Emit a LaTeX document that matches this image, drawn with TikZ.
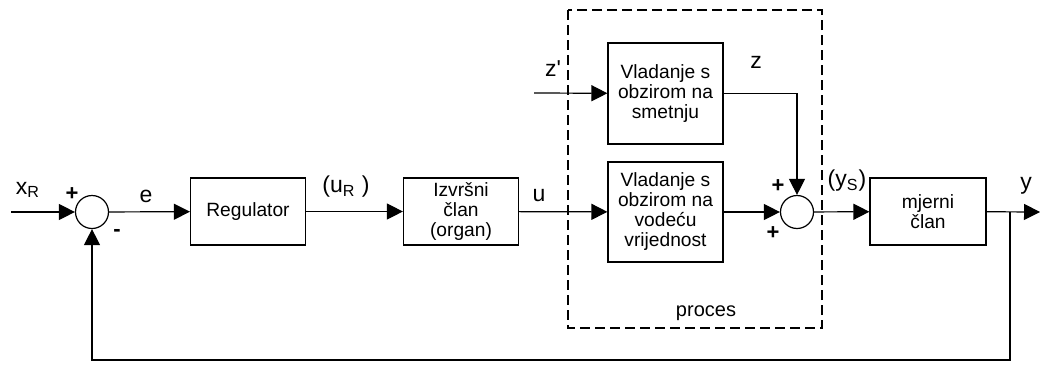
\documentclass[tikz,border=0pt]{standalone}
\usepackage{fontspec}
\setmainfont{Liberation Sans}
\usetikzlibrary{arrows.meta}

\begin{document}
\begin{tikzpicture} [x=0.5pt, y=-0.5pt, line width=0.6pt,
every node/.style = {font=\fontsize{9.6}{10}\selectfont, align=center},
blok/.style = {draw, rectangle, inner sep=0pt, minimum width=57.5pt},
zbroj/.style = {draw, circle, minimum size=16.5pt, inner sep=0pt},
oznaka/.style = {inner sep=0pt, font=\fontsize{11.5}{12}\selectfont},
predznak/.style = {inner sep=0pt, font=\fontsize{11}{12}\selectfont\bfseries},
procesokvir/.style = {line width=1.1pt, dash pattern=on 5pt off 2.5pt},
>={Triangle[length=8pt,width=8pt]}]
\useasboundingbox (0,0) rectangle (1042,364);
% blokovi
\node (s1) [zbroj] at (92,212) {};
\node (reg) [blok, minimum height=33.5pt] at (248,211.5) {Regulator};
\node (izv) [blok, minimum height=33.5pt] at (461,211.5) {Izvršni\\član\\(organ)};
\node (smet) [blok, minimum height=50.5pt] at (665.5,93.5) {Vladanje s\\obzirom na\\smetnju};
\node (vod) [blok, minimum height=50pt] at (665.5,212) {Vladanje s\\obzirom na\\vodeću\\vrijednost};
\node (s2) [zbroj] at (797,212) {};
\node (mjer) [blok, minimum width=58pt, minimum height=33.5pt] at (928,211.5) {mjerni\\član};
\coordinate (in) at (11,212);
\coordinate (zin) at (534,93);
\coordinate (br) at (1010,212);
\coordinate (out) at (1040,212);
\coordinate (fb) at (92,360);
% proces
\draw [procesokvir] (568,10) rectangle (822,328);
\node (proc) [oznaka, font=\fontsize{10}{10}\selectfont] at (706,313) {proces};
% veze
\draw [->] (in) -- (s1);
\draw [->] (s1) -- (reg);
\draw [->] (reg) -- (izv);
\draw [->] (izv) -- (vod);
\draw [->] (zin) -- (smet);
\draw [->] (smet.east) -| (s2.north);
\draw [->] (vod) -- (s2);
\draw [->] (s2) -- (mjer);
\draw [->] (mjer) -- (out);
\draw [->] (br) -- (br |- fb) -- (fb) -- (s1);
% oznake
\node (xr) [oznaka] at (28,190) {x\textsubscript{R}};
\node (p1) [predznak] at (72,194) {+};
\node (m1) [predznak] at (117,233) {-};
\node (e) [oznaka] at (146,196) {e};
\node (ur) [oznaka] at (346,187) {(u\textsubscript{R} )};
\node (u) [oznaka] at (539,196) {u};
\node (zc) [oznaka] at (553,69) {z\textquotesingle};
\node (z) [oznaka] at (756,62) {z};
\node (p2) [predznak] at (778,186) {+};
\node (p3) [predznak] at (773,233) {+};
\node (ys) [oznaka] at (847,181) {(y\textsubscript{S})};
\node (y) [oznaka] at (1026,186) {y};
\end{tikzpicture}
\end{document}
